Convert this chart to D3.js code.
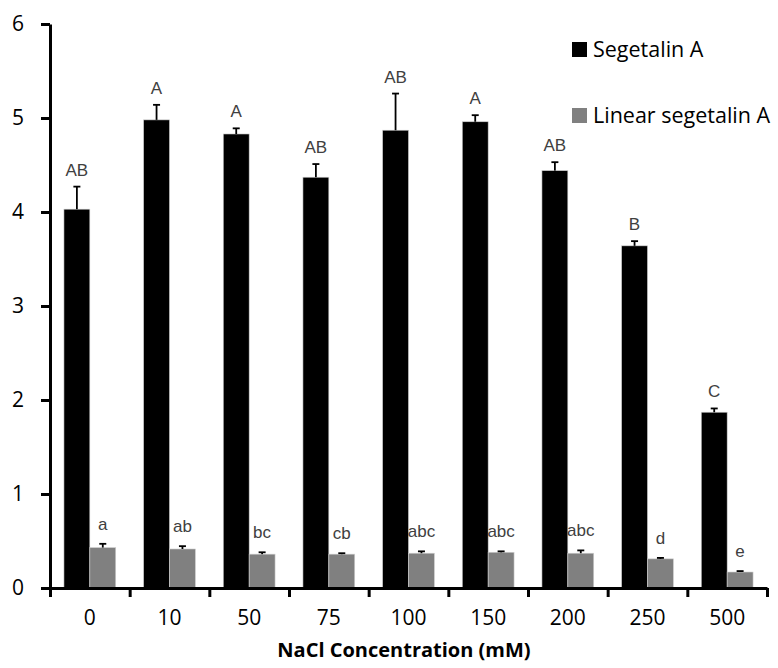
<!DOCTYPE html>
<html>
<head>
<meta charset="utf-8">
<script src="https://cdn.jsdelivr.net/npm/d3@7"></script>
<style>
  body { margin: 0; background: #fff; }
  svg { display: block; }
</style>
</head>
<body>
<div id="chart"></div>
<script>
// concentrations (mM)
const categories = ["0", "10", "50", "75", "100", "150", "200", "250", "500"];
const seriesNames = ["Segetalin A", "Linear segetalin A"];
const segetalin = [4.03, 4.98, 4.83, 4.37, 4.87, 4.96, 4.44, 3.64, 1.87];
const segetalinErr = [0.24, 0.16, 0.06, 0.14, 0.39, 0.07, 0.09, 0.05, 0.04];
const linear = [0.43, 0.415, 0.36, 0.36, 0.37, 0.38, 0.37, 0.31, 0.17];
const linearErr = [0.04, 0.03, 0.02, 0.01, 0.02, 0.01, 0.03, 0.01, 0.01];
const segetalinLetters = ["AB", "A", "A", "AB", "AB", "A", "AB", "B", "C"];
const linearLetters = ["a", "ab", "bc", "cb", "abc", "abc", "abc", "d", "e"];
const yTicks = [0, 1, 2, 3, 4, 5, 6];

const width = 778, height = 668;
const margin = {top: 24, right: 11, bottom: 80, left: 50};
const colors = ["#000000", "#808080"];
const axisFont = "'Open Sans', Lato, sans-serif";

const svg = d3.select("#chart").append("svg")
    .attr("width", width)
    .attr("height", height);

const x = d3.scaleBand()
    .domain(categories)
    .range([margin.left, width - margin.right])
    .paddingInner(0.35)
    .paddingOuter(0.175);

const xs = d3.scaleBand()
    .domain(seriesNames)
    .range([0, x.bandwidth()]);

const y = d3.scaleLinear()
    .domain([0, 6])
    .range([height - margin.bottom, margin.top]);

// boundary ticks between categories
const xb = d3.scaleLinear()
    .domain([0, categories.length])
    .range([margin.left, width - margin.right]);

const rows = categories.map((c, i) => ({
    cat: c,
    vals: [
        {s: seriesNames[0], v: segetalin[i], e: segetalinErr[i], t: segetalinLetters[i], k: 0},
        {s: seriesNames[1], v: linear[i], e: linearErr[i], t: linearLetters[i], k: 1}
    ]
}));

const groups = svg.append("g")
    .selectAll("g")
    .data(rows)
    .join("g")
    .attr("transform", d => `translate(${x(d.cat)},0)`);

groups.selectAll("rect")
    .data(d => d.vals)
    .join("rect")
    .attr("x", d => xs(d.s))
    .attr("y", d => y(d.v))
    .attr("width", xs.bandwidth())
    .attr("height", d => y(0) - y(d.v))
    .attr("fill", d => colors[d.k])
    .attr("stroke", "#cfcfcf")
    .attr("stroke-width", 0.6);

// upper error bars only
const err = groups.selectAll("g.err")
    .data(d => d.vals)
    .join("g")
    .attr("class", "err")
    .attr("stroke", "#000")
    .attr("stroke-width", 1.8);

err.append("line")
    .attr("x1", d => xs(d.s) + xs.bandwidth() / 2)
    .attr("x2", d => xs(d.s) + xs.bandwidth() / 2)
    .attr("y1", d => y(d.v))
    .attr("y2", d => y(d.v + d.e));

err.append("line")
    .attr("x1", d => xs(d.s) + xs.bandwidth() / 2 - 3.5)
    .attr("x2", d => xs(d.s) + xs.bandwidth() / 2 + 3.5)
    .attr("y1", d => y(d.v + d.e))
    .attr("y2", d => y(d.v + d.e));

// significance letters
groups.selectAll("text")
    .data(d => d.vals)
    .join("text")
    .attr("x", d => xs(d.s) + xs.bandwidth() / 2)
    .attr("y", d => y(d.v + d.e) - (d.k === 0 ? 11 : 14))
    .attr("text-anchor", "middle")
    .attr("font-family", "Liberation Sans, Arial, sans-serif")
    .attr("font-size", 17)
    .attr("fill", "#404040")
    .text(d => d.t);

// y axis
const yAxis = svg.append("g")
    .attr("transform", `translate(${margin.left},0)`)
    .call(d3.axisLeft(y).tickValues(yTicks).tickFormat(d3.format("d")).tickSize(9).tickSizeOuter(0).tickPadding(17));
yAxis.select(".domain").attr("stroke-width", 3);
yAxis.selectAll(".tick line").attr("stroke-width", 3);
yAxis.selectAll(".tick text")
    .attr("font-family", axisFont)
    .attr("font-size", 21)
    .attr("fill", "#000");

// x axis line with boundary ticks
const xAxis = svg.append("g")
    .attr("transform", `translate(0,${y(0)})`)
    .call(d3.axisBottom(xb).tickValues(d3.range(categories.length + 1)).tickFormat("").tickSize(9).tickSizeOuter(0));
xAxis.select(".domain").attr("stroke-width", 3);
xAxis.selectAll(".tick line").attr("stroke-width", 3);

// category labels
const xLab = svg.append("g")
    .attr("transform", `translate(0,${y(0)})`)
    .call(d3.axisBottom(x).tickSize(0).tickPadding(22));
xLab.select(".domain").remove();
xLab.selectAll(".tick text")
    .attr("font-family", axisFont)
    .attr("font-size", 21)
    .attr("fill", "#000");

svg.append("text")
    .attr("x", 404)
    .attr("y", 657)
    .attr("text-anchor", "middle")
    .attr("font-family", axisFont)
    .attr("font-weight", "bold")
    .attr("font-size", 20)
    .text("NaCl Concentration (mM)");

// legend
const legend = svg.append("g")
    .selectAll("g")
    .data(seriesNames)
    .join("g")
    .attr("transform", (d, i) => `translate(572,${42 + i * 66})`);

legend.append("rect")
    .attr("width", 15)
    .attr("height", 15)
    .attr("fill", (d, i) => colors[i]);

legend.append("text")
    .attr("x", 21)
    .attr("y", 15)
    .attr("font-family", axisFont)
    .attr("font-size", 21.5)
    .attr("fill", "#000")
    .text(d => d);
</script>
</body>
</html>
